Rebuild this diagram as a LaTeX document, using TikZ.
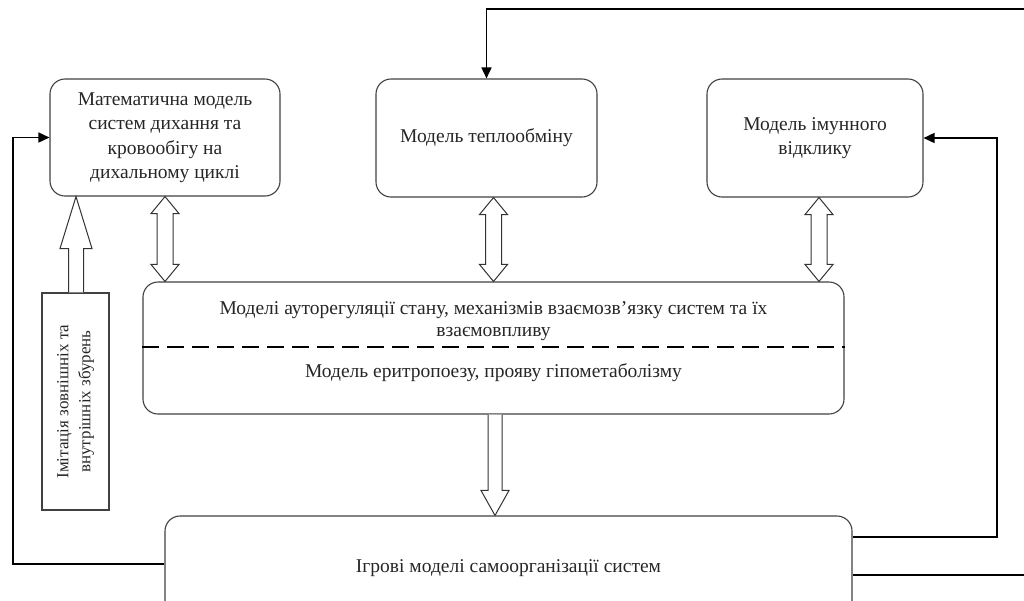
\documentclass[tikz,border=0pt]{standalone}
\usepackage{fontspec}
\setmainfont{Liberation Serif}
\usetikzlibrary{arrows.meta,calc}

\tikzset{
  modelbox/.style={draw=black!75, line width=1.1pt, rounded corners=15pt,
    inner sep=0pt, align=center, text=black!85,
    font=\fontsize{19.5}{24.5}\selectfont},
  plainbox/.style={draw=black!75, line width=1.1pt, inner sep=0pt,
    align=center, text=black!85, font=\fontsize{17}{22}\selectfont},
  boxtext/.style={inner sep=0pt, align=center, text=black!85,
    font=\fontsize{19.5}{22.5}\selectfont},
  feedback/.style={line width=1.6pt, -{Triangle[length=11pt,width=10pt]}},
  hollow/.style={draw=black!80, line width=1pt, fill=white},
  splitline/.style={line width=2.2pt, dash pattern=on 17pt off 8pt},
}

% hollow two-headed arrow, #1 upper end, #2 lower end
\newcommand\twoway[2]{%
  \draw[hollow] let \p1=#1, \p2=#2 in
    (\x1,\y1) -- (\x1+14pt,\y1-17pt) -- (\x1+8pt,\y1-17pt)
    -- (\x1+8pt,\y2+17pt) -- (\x1+14pt,\y2+17pt) -- (\x1,\y2)
    -- (\x1-14pt,\y2+17pt) -- (\x1-8pt,\y2+17pt)
    -- (\x1-8pt,\y1-17pt) -- (\x1-14pt,\y1-17pt) -- cycle;}
% hollow arrow pointing up, #1 foot, #2 tip
\newcommand\uparr[2]{%
  \draw[hollow] let \p1=#1, \p2=#2 in
    (\x1-7.5pt,\y1) -- (\x1-7.5pt,\y2-52pt) -- (\x1-16pt,\y2-52pt)
    -- (\x1,\y2) -- (\x1+16pt,\y2-52pt) -- (\x1+7.5pt,\y2-52pt)
    -- (\x1+7.5pt,\y1);}
% hollow arrow pointing down, #1 foot, #2 tip
\newcommand\downarr[2]{%
  \draw[hollow] let \p1=#1, \p2=#2 in
    (\x1-7pt,\y1) -- (\x1-7pt,\y2+25pt) -- (\x1-14pt,\y2+25pt)
    -- (\x1,\y2) -- (\x1+14pt,\y2+25pt) -- (\x1+7pt,\y2+25pt)
    -- (\x1+7pt,\y1);}

\begin{document}
\begin{tikzpicture}[x=1pt,y=-1pt]
  \useasboundingbox (0,0) rectangle (1024,600);
  \clip (0,0) rectangle (1024,600);

  % upper row
  \node[modelbox, minimum width=230, minimum height=117] (math) at (165,137.5)
    {Математична модель\\систем дихання та\\кровообігу на\\дихальному циклі};
  \node[modelbox, minimum width=221, minimum height=118] (heat) at (486.5,138)
    {Модель теплообміну};
  \node[modelbox, minimum width=216, minimum height=118] (immune) at (815,138)
    {Модель імунного\\відклику};

  % middle block
  \node[modelbox, minimum width=701, minimum height=132] (regul) at (493.5,348) {};
  \node[boxtext] (regtext) at (493.5,321)
    {Моделі ауторегуляції стану, механізмів взаємозв’язку систем та їх\\взаємовпливу};
  \node[boxtext] (erytext) at (493.5,373)
    {Модель еритропоезу, прояву гіпометаболізму};
  \draw[splitline] ([yshift=1pt]regul.west) -- ([yshift=1pt]regul.east);

  % lower block
  \node[modelbox, minimum width=687, minimum height=104] (game) at (508.5,568)
    {Ігрові моделі самоорганізації систем};

  % disturbances
  \node[plainbox, rotate=90, minimum width=217, minimum height=67] (imit) at (75.5,401.5)
    {Імітація зовнішніх та\\внутрішніх збурень};

  % block arrows
  \twoway{(math.south)}{(math.south |- regul.north)}
  \twoway{(heat.south -| regul.north)}{(regul.north)}
  \twoway{([xshift=4pt]immune.south)}{([xshift=4pt]immune.south |- regul.north)}
  \downarr{([xshift=1.5pt]regul.south)}{([xshift=1.5pt]regul.south |- game.north)}
  \uparr{([xshift=0.5pt]imit.east)}{([xshift=0.5pt]imit.east |- math.south)}

  % feedback loops
  \coordinate (leftrim) at (13,0);
  \coordinate (rightrim) at (997,0);
  \coordinate (toprim) at (1034,9);
  \draw[feedback] ([yshift=4pt]game.west) -| (leftrim |- math.west) -- (math.west);
  \draw[feedback] ([yshift=31pt]game.east) -| (rightrim |- immune.east) -- (immune.east);
  \draw[feedback] ([yshift=-7pt]game.east) -| (toprim) -| (heat.north);
\end{tikzpicture}
\end{document}
